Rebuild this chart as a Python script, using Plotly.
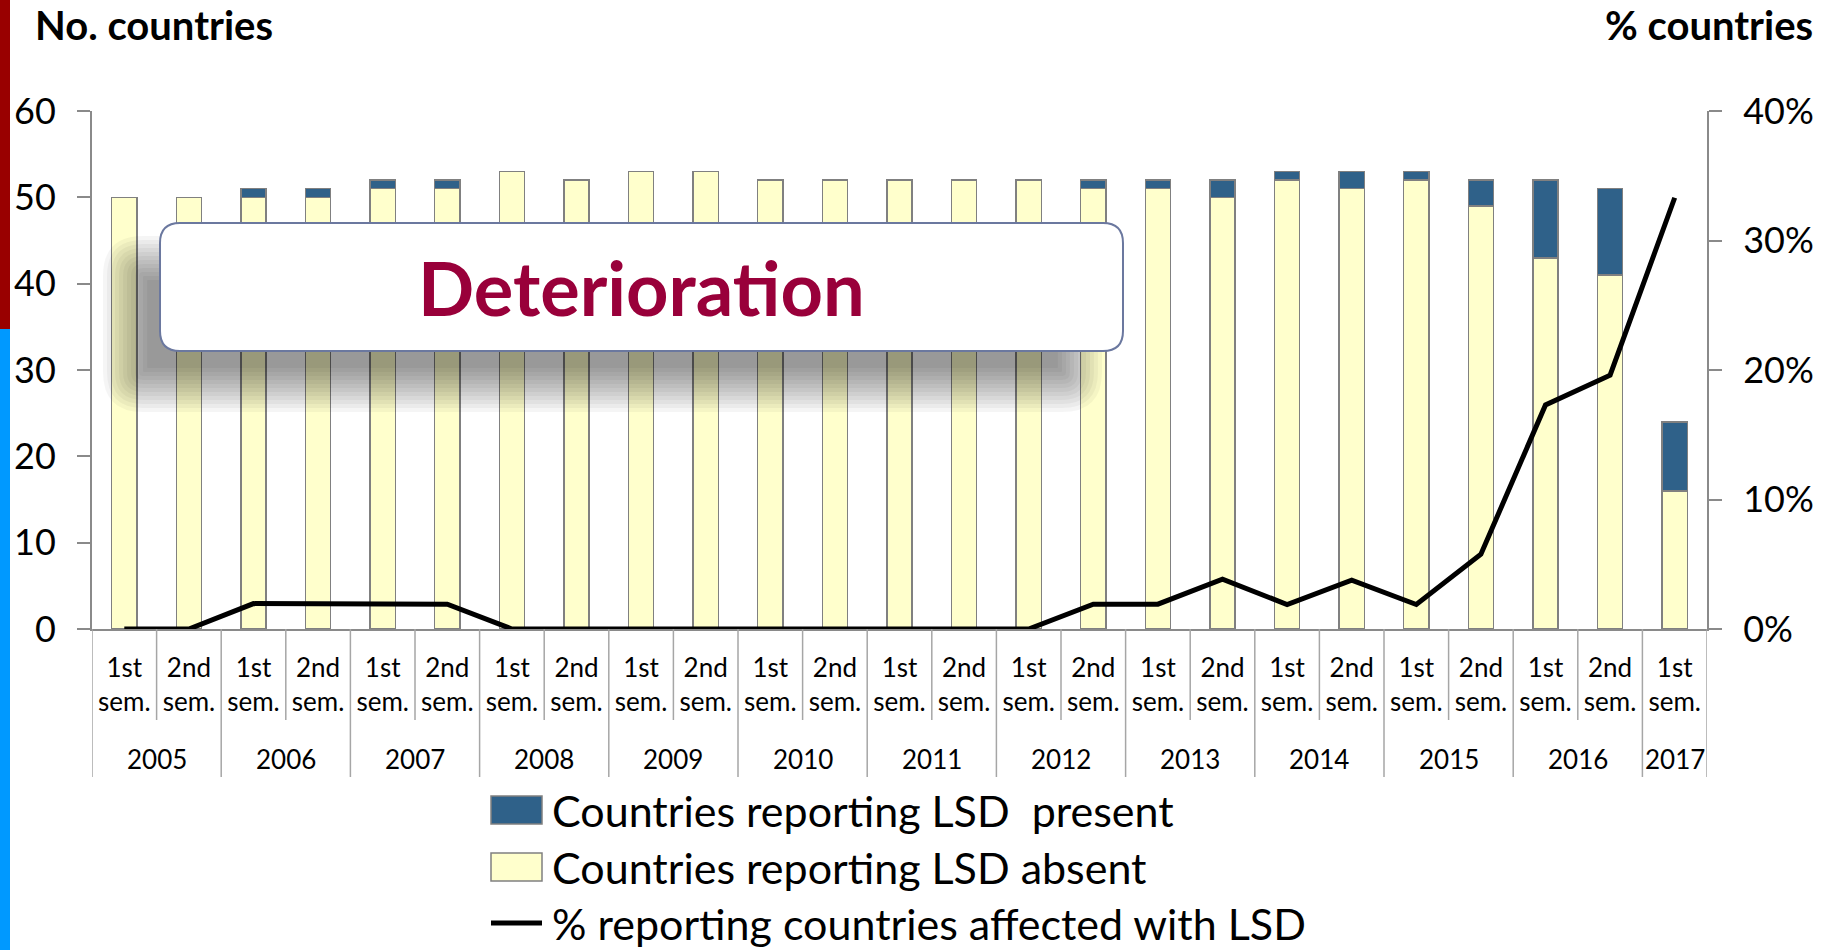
import plotly.graph_objects as go

# Reporting periods (semesters) and their years
period_year = ["2005", "2005", "2006", "2006", "2007", "2007", "2008", "2008",
               "2009", "2009", "2010", "2010", "2011", "2011", "2012", "2012",
               "2013", "2013", "2014", "2014", "2015", "2015", "2016", "2016", "2017"]
period_sem = ["1st", "2nd", "1st", "2nd", "1st", "2nd", "1st", "2nd",
              "1st", "2nd", "1st", "2nd", "1st", "2nd", "1st", "2nd",
              "1st", "2nd", "1st", "2nd", "1st", "2nd", "1st", "2nd", "1st"]

# Number of countries reporting LSD present / absent
lsd_present = [0, 0, 1, 1, 1, 1, 0, 0, 0, 0, 0, 0, 0, 0, 0, 1, 1, 2, 1, 2, 1, 3, 9, 10, 8]
lsd_absent = [50, 50, 50, 50, 51, 51, 53, 52, 53, 53, 52, 52, 52, 52, 52, 51, 51, 50,
              52, 51, 52, 49, 43, 41, 16]

# Share of reporting countries affected with LSD
pct_affected = [0.0, 0.0, 0.0196, 0.0196, 0.0192, 0.0192, 0.0, 0.0, 0.0, 0.0, 0.0, 0.0,
                0.0, 0.0, 0.0, 0.0192, 0.0192, 0.0385, 0.0189, 0.0377, 0.0189, 0.0577,
                0.173, 0.196, 0.333]

legend_labels = ["Countries reporting LSD  present",
                 "Countries reporting LSD absent",
                 "% reporting countries affected with LSD"]

FONT = "Lato"
C_PRESENT = "#2F6189"
C_ABSENT = "#FFFFCC"
C_EDGE = "#808080"
C_AXIS = "#8A8A8A"

# Plot area in pixels
WIDTH, HEIGHT = 1824, 950
PL, PR, PT, PB = 92, 1707, 111, 629
PW, PH = PR - PL, PB - PT


def px(x):
    return (x - PL) / PW


def py(y):
    return (PB - y) / PH


def rounded_rect(x0, y0, x1, y1, r):
    r = max(r, 1)
    pts = [
        ("M", [(x0 + r, y0)]),
        ("L", [(x1 - r, y0)]),
        ("Q", [(x1, y0), (x1, y0 + r)]),
        ("L", [(x1, y1 - r)]),
        ("Q", [(x1, y1), (x1 - r, y1)]),
        ("L", [(x0 + r, y1)]),
        ("Q", [(x0, y1), (x0, y1 - r)]),
        ("L", [(x0, y0 + r)]),
        ("Q", [(x0, y0), (x0 + r, y0)]),
    ]
    out = []
    for cmd, coords in pts:
        out.append(cmd + " ".join(f"{px(a):.5f},{py(b):.5f}" for a, b in coords))
    return " ".join(out) + " Z"


idx = list(range(len(period_sem)))
sem_text = [f"{s}<br>sem." for s in period_sem]

fig = go.Figure()
fig.add_trace(go.Bar(x=idx, y=lsd_absent, name=legend_labels[1], width=0.39,
                     marker=dict(color=C_ABSENT, line=dict(color=C_EDGE, width=1.5)),
                     showlegend=False))
fig.add_trace(go.Bar(x=idx, y=lsd_present, name=legend_labels[0], width=0.39,
                     marker=dict(color=C_PRESENT, line=dict(color=C_EDGE, width=1.5)),
                     showlegend=False))
fig.add_trace(go.Scatter(x=idx, y=pct_affected, name=legend_labels[2], yaxis="y2",
                         mode="lines", line=dict(color="black", width=5),
                         showlegend=False))

shapes = []
annotations = []

# Left edge colour stripes
shapes.append(dict(type="rect", xref="paper", yref="paper", x0=px(0), x1=px(10),
                   y0=py(0), y1=py(329), fillcolor="#990000", line_width=0, layer="above"))
shapes.append(dict(type="rect", xref="paper", yref="paper", x0=px(0), x1=px(10),
                   y0=py(329), y1=py(HEIGHT), fillcolor="#0099FF", line_width=0, layer="above"))

# Category dividers below the x axis: short between semesters, long between years
for b in range(len(idx) + 1):
    pos = b - 0.5
    is_year_edge = b == 0 or b == len(idx) or period_year[b] != period_year[b - 1]
    bottom = 777 if is_year_edge else 720
    shapes.append(dict(type="line", xref="x", yref="paper", x0=pos, x1=pos,
                       y0=0, y1=py(bottom), line=dict(color="#A6A6A6", width=1.5)))

# Year labels centred under their semesters
years = []
for y in period_year:
    if y not in years:
        years.append(y)
for y in years:
    members = [i for i, yy in enumerate(period_year) if yy == y]
    annotations.append(dict(x=sum(members) / len(members), y=py(759), xref="x", yref="paper",
                            text=y, showarrow=False, xanchor="center", yanchor="middle",
                            font=dict(family=FONT, size=26, color="black")))

# Callout box with soft drop shadow
sx0, sy0, sx1, sy1 = 125, 258, 1080, 390
blur, layers = 22, 12
for k in range(layers):
    e = blur - k * (2 * blur / (layers - 1))
    shapes.append(dict(type="path", xref="paper", yref="paper",
                       path=rounded_rect(sx0 - e, sy0 - e, sx1 + e, sy1 + e, 18 + e),
                       fillcolor="rgba(0,0,0,0.04)", line_width=0, layer="above"))
shapes.append(dict(type="path", xref="paper", yref="paper",
                   path=rounded_rect(160, 223, 1123, 351, 20),
                   fillcolor="white", line=dict(color="#6B789F", width=2), layer="above"))
annotations.append(dict(x=px(641.5), y=py(287), xref="paper", yref="paper",
                        text="<b>Deterioration</b>", showarrow=False,
                        xanchor="center", yanchor="middle",
                        font=dict(family=FONT, size=74, color="#99003A")))

# Axis titles
annotations.append(dict(x=px(33), y=py(25), xref="paper", yref="paper",
                        text="<b>No. countries</b>", showarrow=False,
                        xanchor="left", yanchor="middle",
                        font=dict(family=FONT, size=40, color="black")))
annotations.append(dict(x=px(1815), y=py(25), xref="paper", yref="paper",
                        text="<b>% countries</b>", showarrow=False,
                        xanchor="right", yanchor="middle",
                        font=dict(family=FONT, size=40, color="black")))

# Legend
leg_x0, leg_x1, leg_text_x = 491, 542, 550
leg_rows = [810, 867, 923]
shapes.append(dict(type="rect", xref="paper", yref="paper", x0=px(leg_x0), x1=px(leg_x1),
                   y0=py(leg_rows[0] - 14), y1=py(leg_rows[0] + 14),
                   fillcolor=C_PRESENT, line=dict(color=C_EDGE, width=1.5)))
shapes.append(dict(type="rect", xref="paper", yref="paper", x0=px(leg_x0), x1=px(leg_x1),
                   y0=py(leg_rows[1] - 14), y1=py(leg_rows[1] + 14),
                   fillcolor=C_ABSENT, line=dict(color=C_EDGE, width=1.5)))
shapes.append(dict(type="line", xref="paper", yref="paper", x0=px(leg_x0), x1=px(leg_x1),
                   y0=py(leg_rows[2]), y1=py(leg_rows[2]), line=dict(color="black", width=5)))
for label, row in zip(legend_labels, leg_rows):
    annotations.append(dict(x=px(leg_text_x), y=py(row), xref="paper", yref="paper",
                            text=label, showarrow=False, xanchor="left", yanchor="middle",
                            font=dict(family=FONT, size=43, color="black")))

axis_common = dict(showgrid=False, zeroline=False, showline=True, linecolor=C_AXIS,
                   linewidth=2, ticks="outside", ticklen=13, tickcolor=C_AXIS, tickwidth=2,
                   tickfont=dict(family=FONT, size=36, color="black"), ticklabelstandoff=14)

fig.update_layout(
    width=WIDTH, height=HEIGHT,
    margin=dict(l=PL, r=WIDTH - PR, t=PT, b=HEIGHT - PB, autoexpand=False),
    paper_bgcolor="white", plot_bgcolor="white",
    barmode="stack",
    font=dict(family=FONT, color="black"),
    xaxis=dict(range=[-0.5, len(idx) - 0.5], tickmode="array", tickvals=idx, ticktext=sem_text,
               showgrid=False, zeroline=False, showline=True, linecolor=C_AXIS, linewidth=2,
               ticks="", tickfont=dict(family=FONT, size=26, color="black"),
               ticklabelstandoff=15),
    yaxis=dict(range=[0, 60], dtick=10, **axis_common),
    yaxis2=dict(range=[0, 0.4], dtick=0.1, tickformat=".0%", overlaying="y", side="right",
                **axis_common),
    shapes=shapes,
    annotations=annotations,
)

fig.write_html("out.html")
